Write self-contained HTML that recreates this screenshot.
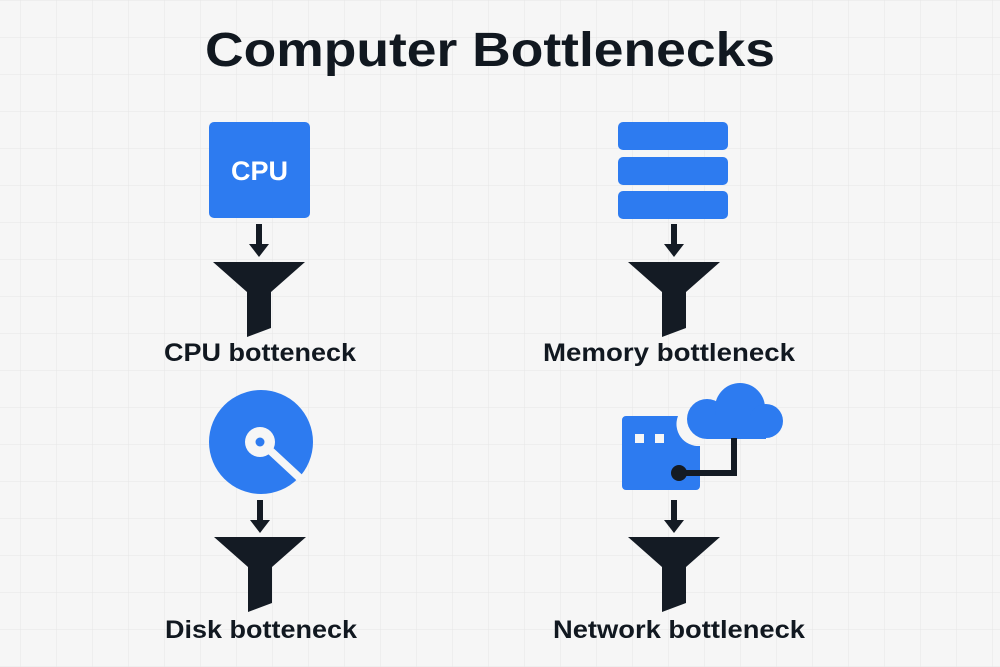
<!DOCTYPE html>
<html><head><meta charset="utf-8"><style>
html,body{margin:0;padding:0;background:#f6f6f6;}
svg{display:block;}
text{font-family:"Liberation Sans",Arial,sans-serif;font-weight:bold;fill:#111820;}
</style></head><body>
<svg width="1000" height="667" viewBox="0 0 1000 667" xmlns="http://www.w3.org/2000/svg">
<defs>
<pattern id="g" width="36" height="37" patternUnits="userSpaceOnUse" x="20" y="0">
<path d="M0 0V37M0 0H36" stroke="#e6e6e6" stroke-width="1" fill="none"/>
</pattern>
<g id="funnel"><path d="M-46 0H46L12 30V66L-12 75V30Z" fill="#141b24"/></g>
<g id="arrow"><rect x="-3" y="0" width="6" height="22" fill="#141b24"/><path d="M-10 20H10L0 33Z" fill="#141b24"/></g>
</defs>
<rect width="1000" height="667" fill="#f6f6f6"/>
<rect width="1000" height="667" fill="url(#g)"/>
<text x="490" y="66" font-size="48" text-anchor="middle" textLength="570" lengthAdjust="spacingAndGlyphs">Computer Bottlenecks</text>

<!-- CPU -->
<rect x="209" y="122" width="101" height="96" rx="5" fill="#2d7bf0"/>
<text x="259.5" y="180" font-size="27" text-anchor="middle" style="fill:#fff">CPU</text>
<use href="#arrow" x="259" y="224"/>
<use href="#funnel" x="259" y="262"/>
<text x="260" y="361" font-size="25" text-anchor="middle" textLength="192" lengthAdjust="spacingAndGlyphs">CPU botteneck</text>

<!-- Memory -->
<rect x="618" y="122" width="110" height="28" rx="5" fill="#2d7bf0"/>
<rect x="618" y="157" width="110" height="28" rx="5" fill="#2d7bf0"/>
<rect x="618" y="191" width="110" height="28" rx="5" fill="#2d7bf0"/>
<use href="#arrow" x="674" y="224"/>
<use href="#funnel" x="674" y="262"/>
<text x="669" y="361" font-size="25" text-anchor="middle" textLength="252" lengthAdjust="spacingAndGlyphs">Memory bottleneck</text>

<!-- Disk -->
<circle cx="261" cy="442" r="52" fill="#2d7bf0"/>
<line x1="261" y1="442" x2="302" y2="480" stroke="#f6f6f6" stroke-width="8"/>
<circle cx="260" cy="442" r="15" fill="#f6f6f6"/>
<circle cx="260" cy="442" r="4.5" fill="#2d7bf0"/>
<use href="#arrow" x="260" y="500"/>
<use href="#funnel" x="260" y="537"/>
<text x="261" y="638" font-size="25" text-anchor="middle" textLength="192" lengthAdjust="spacingAndGlyphs">Disk botteneck</text>

<!-- Network -->
<path d="M626 416H678A22 22 0 0 0 700 446V486A4 4 0 0 1 696 490H626A4 4 0 0 1 622 486V420A4 4 0 0 1 626 416Z" fill="#2d7bf0"/>
<rect x="635" y="434" width="9" height="9" fill="#f6f6f6"/>
<rect x="655" y="434" width="9" height="9" fill="#f6f6f6"/>
<g fill="#2d7bf0">
<circle cx="707" cy="419" r="20"/>
<circle cx="740" cy="408" r="25"/>
<circle cx="766" cy="421" r="17"/>
<rect x="707" y="415" width="59" height="24"/>
</g>
<path d="M734 438V473H679" stroke="#141b24" stroke-width="6" fill="none"/>
<circle cx="679" cy="473" r="8" fill="#141b24"/>
<use href="#arrow" x="674" y="500"/>
<use href="#funnel" x="674" y="537"/>
<text x="679" y="638" font-size="25" text-anchor="middle" textLength="252" lengthAdjust="spacingAndGlyphs">Network bottleneck</text>
</svg>
</body></html>
